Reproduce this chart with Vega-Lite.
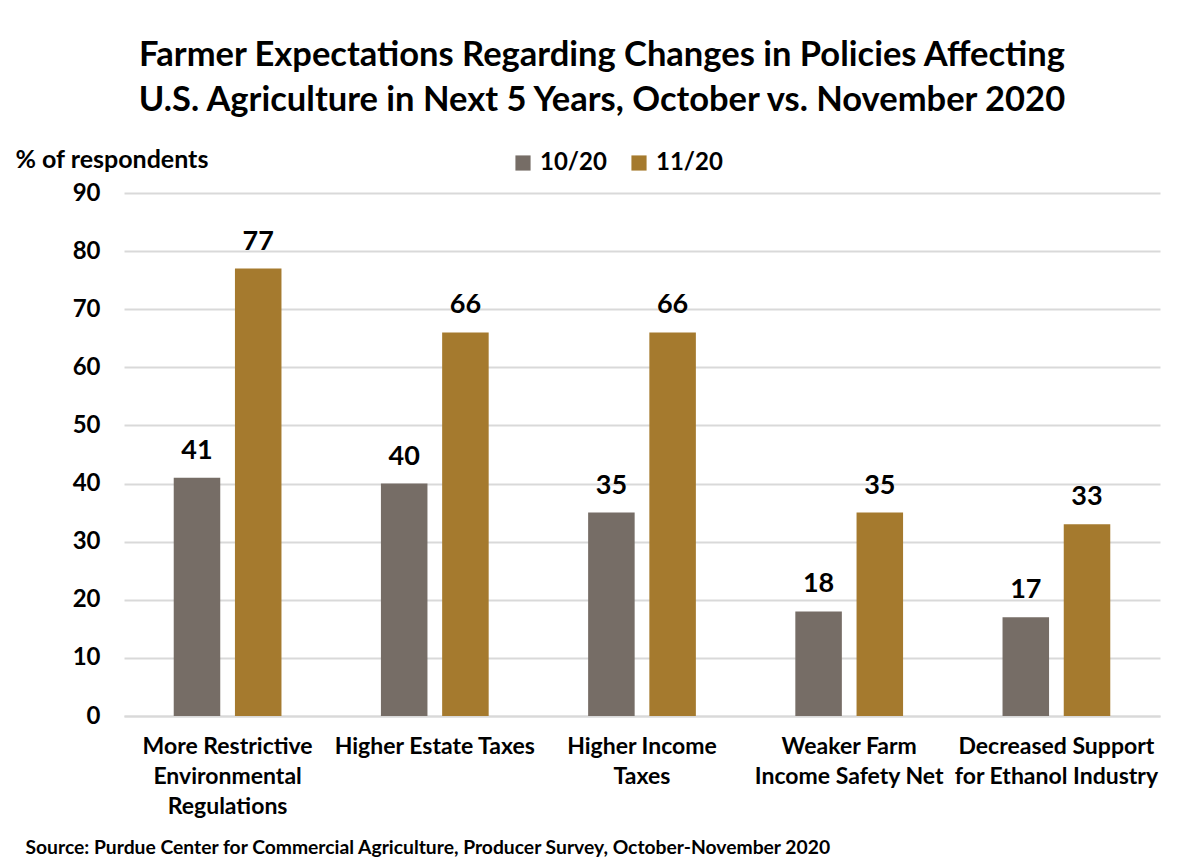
{
  "$schema": "https://vega.github.io/schema/vega-lite/v6.json",
  "width": 1036,
  "height": 523,
  "autosize": {"type": "none"},
  "padding": {"left": 124, "top": 193, "right": 27, "bottom": 149},
  "background": "white",
  "config": {
    "font": "Lato",
    "view": {"stroke": null}
  },
  "title": {
    "text": ["Farmer Expectations Regarding Changes in Policies Affecting", "U.S. Agriculture in Next 5 Years, October vs. November 2020"],
    "fontSize": 34.5,
    "fontWeight": "bold",
    "color": "black",
    "anchor": "middle",
    "dx": -40,
    "lineHeight": 45,
    "offset": 29
  },
  "data": {
    "values": [
      {"policy": "More Restrictive|Environmental|Regulations", "period": "10/20", "value": 41},
      {"policy": "More Restrictive|Environmental|Regulations", "period": "11/20", "value": 77},
      {"policy": "Higher Estate Taxes", "period": "10/20", "value": 40},
      {"policy": "Higher Estate Taxes", "period": "11/20", "value": 66},
      {"policy": "Higher Income|Taxes", "period": "10/20", "value": 35},
      {"policy": "Higher Income|Taxes", "period": "11/20", "value": 66},
      {"policy": "Weaker Farm|Income Safety Net", "period": "10/20", "value": 18},
      {"policy": "Weaker Farm|Income Safety Net", "period": "11/20", "value": 35},
      {"policy": "Decreased Support|for Ethanol Industry", "period": "10/20", "value": 17},
      {"policy": "Decreased Support|for Ethanol Industry", "period": "11/20", "value": 33}
    ]
  },
  "encoding": {
    "x": {
      "field": "policy",
      "type": "nominal",
      "sort": null,
      "scale": {"paddingInner": 0.48, "paddingOuter": 0.24},
      "axis": {
        "title": "Source: Purdue Center for Commercial Agriculture, Producer Survey, October-November 2020",
        "titleX": -99,
        "titleY": 137,
        "titleAlign": "left",
        "titleAnchor": "start",
        "titleBaseline": "alphabetic",
        "titleFontSize": 19.3,
        "titleFontWeight": "bold",
        "titleColor": "black",
        "titleLimit": 1100,
        "labelAngle": 0,
        "labelExpr": "split(datum.label, '|')",
        "labelFontSize": 23,
        "labelFontWeight": "bold",
        "labelColor": "black",
        "labelLineHeight": 30,
        "labelPadding": 19,
        "labelLimit": 300,
        "ticks": false,
        "domainColor": "#D9D9D9",
        "domainWidth": 2
      }
    },
    "xOffset": {"field": "period", "type": "nominal", "scale": {"paddingInner": 0.24}},
    "y": {
      "field": "value",
      "type": "quantitative",
      "scale": {"domain": [0, 90]},
      "axis": {
        "values": [0, 10, 20, 30, 40, 50, 60, 70, 80, 90],
        "title": "% of respondents",
        "titleAngle": 0,
        "titleX": -109,
        "titleY": -26,
        "titleAlign": "left",
        "titleBaseline": "alphabetic",
        "titleFontSize": 25,
        "titleFontWeight": "bold",
        "titleColor": "black",
        "labelFontSize": 24,
        "labelFontWeight": "bold",
        "labelColor": "black",
        "labelPadding": 24,
        "ticks": false,
        "domain": false,
        "gridColor": "#D9D9D9",
        "gridWidth": 2
      }
    }
  },
  "layer": [
    {
      "mark": {"type": "bar"},
      "encoding": {
        "color": {
          "field": "period",
          "type": "nominal",
          "scale": {"domain": ["10/20", "11/20"], "range": ["#766D66", "#A57A2E"]},
          "legend": {
            "title": null,
            "orient": "none",
            "direction": "horizontal",
            "legendX": 387,
            "legendY": -42,
            "symbolType": "square",
            "symbolSize": 230,
            "symbolStrokeWidth": 0,
            "labelFontSize": 24,
            "labelFontWeight": "bold",
            "labelColor": "black",
            "labelOffset": 5,
            "columnPadding": 20
          }
        }
      }
    },
    {
      "mark": {"type": "text", "baseline": "alphabetic", "dy": -19, "fontSize": 27, "fontWeight": "bold", "color": "black"},
      "encoding": {"text": {"field": "value", "type": "quantitative"}}
    }
  ]
}
